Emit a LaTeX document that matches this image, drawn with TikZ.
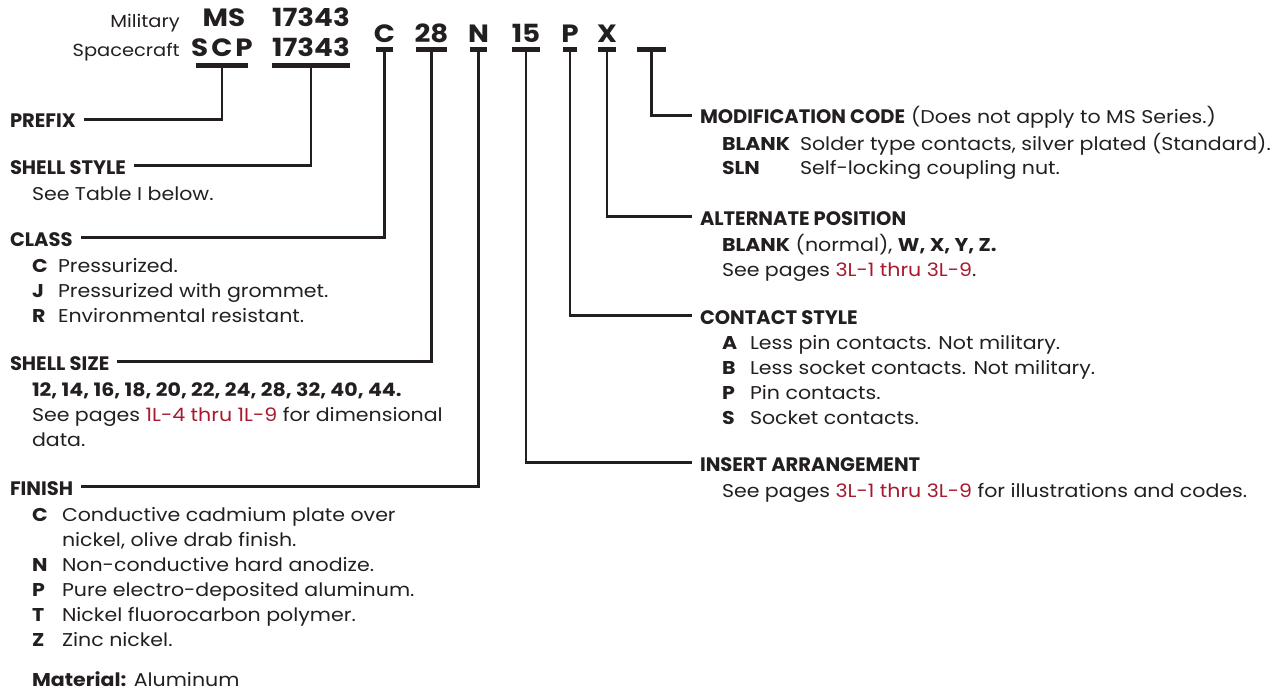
\documentclass[tikz,border=0pt]{standalone}
\usepackage{fontspec}
\setmainfont{Poppins}[FakeStretch=1.11]
\newfontfamily\hfont{Poppins}
\usepackage{xcolor}
\definecolor{ink}{RGB}{35,31,32}
\definecolor{lnk}{RGB}{166,25,46}
\newcommand{\lk}[1]{\textcolor{lnk}{#1}}
\begin{document}
\begin{tikzpicture}[x=1pt,y=-1pt,
  txt/.style={anchor=base west, inner sep=0pt, outer sep=0pt, text=ink, font=\fontsize{18.5}{22}\selectfont},
  hd/.style={anchor=base west, inner sep=0pt, outer sep=0pt, text=ink, font=\hfont\bfseries\fontsize{19.5}{23}\selectfont, text height=17pt, text depth=0pt},
  lab/.style={anchor=base east, inner sep=0pt, text=ink, font=\fontsize{17.5}{21}\selectfont},
  code/.style={anchor=base, inner sep=0pt, text=ink, font=\bfseries\fontsize{25}{29}\selectfont},
  bar/.style={fill=ink, inner sep=0pt, outer sep=0pt, minimum height=5pt, anchor=north},
  conn/.style={draw=ink, line width=2.5pt, line join=miter}]
\useasboundingbox (0,0) rectangle (1282,690);

% ---- top codes
\node[lab] (mil) at (180,28) {Military};
\node[code] (ms) at (224,27) {MS};
\node[code] (m17) at (311,27) {17343};
\node[lab] (spc) at (180,57) {Spacecraft};
\node[code] (scp) at (222,57) {\addfontfeature{LetterSpace=12}SCP};
\node[code] (s17) at (311,57) {17343};
\node[bar, minimum width=52pt] (bscp) at (222,63) {};
\node[bar, minimum width=78pt] (bs17) at (311,63) {};

\node[code] (cc) at (384.5,43) {C};
\node[code] (c28) at (431.5,43) {28};
\node[code] (cn) at (478.5,43) {N};
\node[code] (c15) at (526,43) {15};
\node[code] (cp) at (570,43) {P};
\node[code] (cx) at (607,43) {X};
\node[bar, minimum width=17pt] (bc) at (384.5,47) {};
\node[bar, minimum width=31pt] (b28) at (431.5,47) {};
\node[bar, minimum width=17pt] (bn) at (478.5,47) {};
\node[bar, minimum width=28pt] (b15) at (526,47) {};
\node[bar, minimum width=14pt] (bp) at (570,47) {};
\node[bar, minimum width=18pt] (bx) at (607,47) {};
\node[bar, minimum width=29pt] (bb) at (651.5,47) {};

% ---- left column
\node[hd] (prefix) at (10,128) {PREFIX};
\node[hd] (shst) at (10,174) {SHELL STYLE};
\node[txt] (shst1) at (32,200) {See Table I below.};
\node[hd] (class) at (10,246) {CLASS};
\node[txt] (cl1c) at (32,272) {\bfseries C};
\node[txt] (cl1) at (58,272) {Pressurized.};
\node[txt] (cl2c) at (32,297) {\bfseries J};
\node[txt] (cl2) at (58,297) {Pressurized with grommet.};
\node[txt] (cl3c) at (32,322) {\bfseries R};
\node[txt] (cl3) at (58,322) {Environmental resistant.};
\node[hd] (shsz) at (10,370) {SHELL SIZE};
\node[txt] (sz1) at (32,396) {\bfseries 12, 14, 16, 18, 20, 22, 24, 28, 32, 40, 44.};
\node[txt] (sz2) at (32,421) {See pages \lk{1L-4 thru 1L-9} for dimensional};
\node[txt] (sz3) at (32,446) {data.};
\node[hd] (fin) at (10,495) {FINISH};
\node[txt] (f1c) at (32,521) {\bfseries C};
\node[txt] (f1) at (62,521) {Conductive cadmium plate over};
\node[txt] (f1b) at (62,546) {nickel, olive drab finish.};
\node[txt] (f2c) at (32,571) {\bfseries N};
\node[txt] (f2) at (62,571) {Non-conductive hard anodize.};
\node[txt] (f3c) at (32,596) {\bfseries P};
\node[txt] (f3) at (62,596) {Pure electro-deposited aluminum.};
\node[txt] (f4c) at (32,621) {\bfseries T};
\node[txt] (f4) at (62,621) {Nickel fluorocarbon polymer.};
\node[txt] (f5c) at (32,646) {\bfseries Z};
\node[txt] (f5) at (62,646) {Zinc nickel.};
\node[txt] (mat) at (32,686) {\textbf{Material:} Aluminum};

% ---- right column
\node[hd] (mod) at (700,124) {MODIFICATION CODE};
\node[txt, anchor=base west] (mod2) at ([xshift=6pt]mod.base east) {(Does not apply to MS Series.)};
\node[txt] (m1c) at (722,150) {\bfseries BLANK};
\node[txt] (m1) at (800,150) {Solder type contacts, silver plated (Standard).};
\node[txt] (m2c) at (722,175) {\bfseries SLN};
\node[txt] (m2) at (800,175) {Self-locking coupling nut.};
\node[hd] (alt) at (700,225) {ALTERNATE POSITION};
\node[txt] (a1) at (722,251) {\textbf{BLANK} (normal), \textbf{W, X, Y, Z.}};
\node[txt] (a2) at (722,276) {See pages \lk{3L-1 thru 3L-9}.};
\node[hd] (cst) at (700,324) {CONTACT STYLE};
\node[txt] (c1c) at (722,349) {\bfseries A};
\node[txt] (c1) at (750,349) {Less pin contacts. Not military.};
\node[txt] (c2c) at (722,374) {\bfseries B};
\node[txt] (c2) at (750,374) {Less socket contacts. Not military.};
\node[txt] (c3c) at (722,399) {\bfseries P};
\node[txt] (c3) at (750,399) {Pin contacts.};
\node[txt] (c4c) at (722,424) {\bfseries S};
\node[txt] (c4) at (750,424) {Socket contacts.};
\node[hd] (ins) at (700,471) {INSERT ARRANGEMENT};
\node[txt] (i1) at (722,497) {See pages \lk{3L-1 thru 3L-9} for illustrations and codes.};

% ---- connectors
\draw[conn] (bscp.center) |- ([xshift=8pt]prefix.east);
\draw[conn] (bs17.center) |- ([xshift=8pt]shst.east);
\draw[conn] (bc.center) |- ([xshift=8pt]class.east);
\draw[conn] (b28.center) |- ([xshift=8pt]shsz.east);
\draw[conn] (bn.center) |- ([xshift=8pt]fin.east);
\draw[conn] (b15.center) |- ([xshift=-8pt]ins.west);
\draw[conn] (bp.center) |- ([xshift=-8pt]cst.west);
\draw[conn] (bx.center) |- ([xshift=-8pt]alt.west);
\draw[conn] (bb.center) |- ([xshift=-8pt]mod.west);
\end{tikzpicture}
\end{document}
